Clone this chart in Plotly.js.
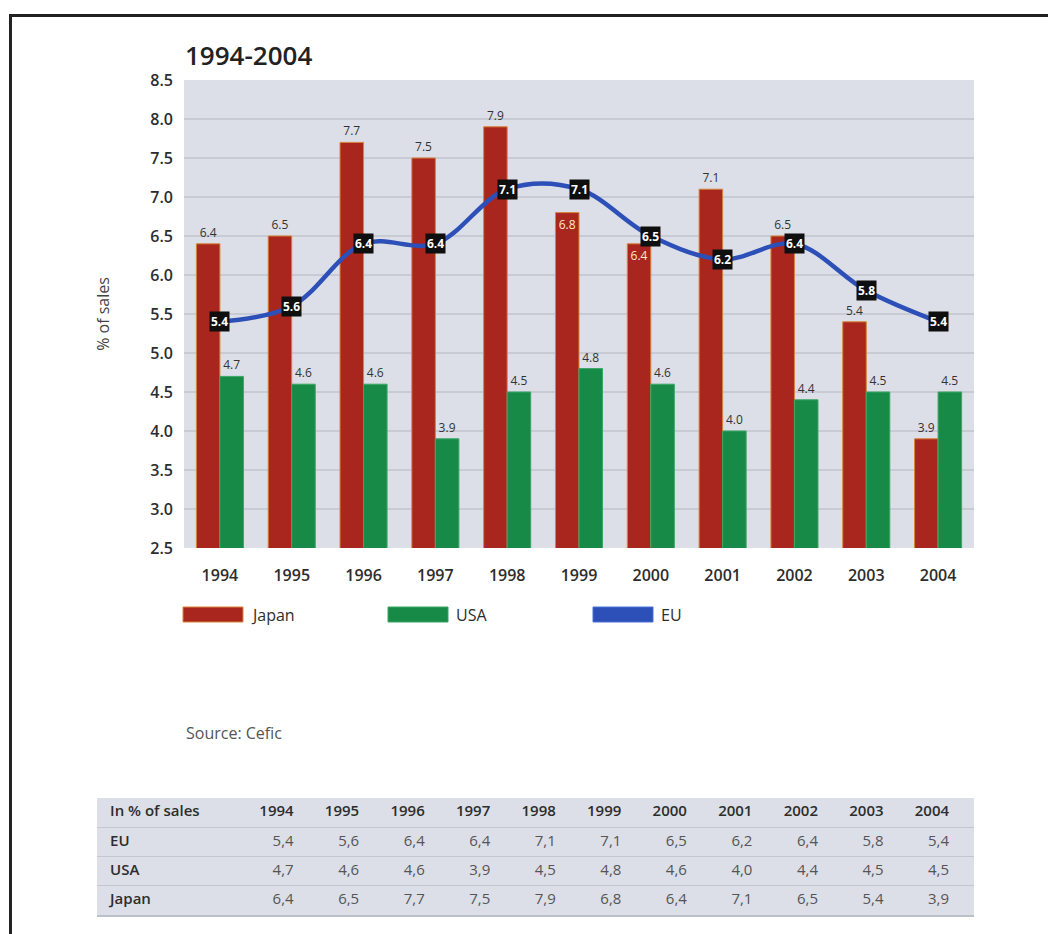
<!DOCTYPE html>
<html>
<head>
<meta charset="utf-8">
<script src="https://cdn.plot.ly/plotly-3.0.1.min.js"></script>
<style>
  html, body { margin: 0; padding: 0; background: #ffffff; }
  #chart { width: 1048px; height: 934px; }
</style>
</head>
<body>
<div id="chart"></div>
<script>
// R&D spending as a share of sales, 1994-2004
const years = ['1994', '1995', '1996', '1997', '1998', '1999', '2000', '2001', '2002', '2003', '2004'];
const japan = [6.4, 6.5, 7.7, 7.5, 7.9, 6.8, 6.4, 7.1, 6.5, 5.4, 3.9];
const usa   = [4.7, 4.6, 4.6, 3.9, 4.5, 4.8, 4.6, 4.0, 4.4, 4.5, 4.5];
const eu    = [5.4, 5.6, 6.4, 6.4, 7.1, 7.1, 6.5, 6.2, 6.4, 5.8, 5.4];
const seriesNames = ['Japan', 'USA', 'EU'];
const tableRowLabels = ['EU', 'USA', 'Japan'];
const tableCorner = 'In % of sales';
const yAxisTitle = '% of sales';
const chartTitle = '1994-2004';
const sourceNote = 'Source: Cefic';

const W = 1048, H = 934;
const px = v => v / W;
const py = v => 1 - v / H;

const FONT = '"Open Sans", "Noto Sans", Arial, sans-serif';
const colors = {
  japan: '#a8261d', japanEdge: '#d9833a',
  usa: '#178a47', usaEdge: '#3aa565',
  eu: '#2c4fb8',
  bg: '#dcdfe7', grid: '#c7cbd5', text: '#2d2d2d', soft: '#555555'
};

// Japan labels that would sit under the EU line go inside the bar top
const japanPos = japan.map((v, i) => (eu[i] > v && eu[i] - v < 0.35) ? 'inside' : 'outside');
const japanTextColor = japanPos.map(p => p === 'inside' ? '#fbe8c8' : '#333333');

const fmtDot = v => v.toFixed(1);
const fmtComma = v => v.toFixed(1).replace('.', ',');

const traces = [
  {
    type: 'bar', name: seriesNames[0], x: years, y: japan,
    marker: { color: colors.japan, line: { color: colors.japanEdge, width: 1 } },
    text: japan.map(fmtDot), textposition: japanPos, insidetextanchor: 'end',
    textangle: 0, constraintext: 'none', cliponaxis: false,
    textfont: { family: FONT, size: 12, color: japanTextColor },
    hoverinfo: 'skip', showlegend: false, xaxis: 'x', yaxis: 'y'
  },
  {
    type: 'bar', name: seriesNames[1], x: years, y: usa,
    marker: { color: colors.usa, line: { color: colors.usaEdge, width: 1 } },
    text: usa.map(fmtDot), textposition: 'outside',
    textangle: 0, constraintext: 'none', cliponaxis: false,
    textfont: { family: FONT, size: 12, color: '#333333' },
    hoverinfo: 'skip', showlegend: false, xaxis: 'x', yaxis: 'y'
  },
  {
    type: 'scatter', mode: 'lines', name: seriesNames[2], x: years, y: eu,
    line: { color: colors.eu, width: 4.5, shape: 'spline', smoothing: 1 },
    hoverinfo: 'skip', showlegend: false, xaxis: 'x', yaxis: 'y'
  }
];

// Data table below the chart, on its own pair of axes
const colIdx = years.map((_, i) => i);
const rowY = { header: 3.5, EU: 2.5, USA: 1.5, Japan: 0.5 };
const tableFont = { family: FONT, size: 15, color: colors.soft };
const tableBold = { family: FONT, size: 15, color: colors.text, weight: 600 };

traces.push({
  type: 'scatter', mode: 'text', x: colIdx, y: years.map(() => rowY.header),
  text: years, textposition: 'middle left', textfont: tableBold,
  hoverinfo: 'skip', showlegend: false, xaxis: 'x2', yaxis: 'y2'
});
[[eu, 'EU'], [usa, 'USA'], [japan, 'Japan']].forEach(([vals, key]) => {
  traces.push({
    type: 'scatter', mode: 'text', x: colIdx, y: vals.map(() => rowY[key]),
    text: vals.map(fmtComma), textposition: 'middle left', textfont: tableFont,
    hoverinfo: 'skip', showlegend: false, xaxis: 'x2', yaxis: 'y2'
  });
});
traces.push({
  type: 'scatter', mode: 'text',
  x: [-2.8, -2.8, -2.8, -2.8],
  y: [rowY.header, rowY.EU, rowY.USA, rowY.Japan],
  text: [tableCorner].concat(tableRowLabels), textposition: 'middle right', textfont: tableBold,
  hoverinfo: 'skip', showlegend: false, xaxis: 'x2', yaxis: 'y2'
});

// EU values in black tags on the line (x given as category index)
const annotations = eu.map((v, i) => ({
  xref: 'x', yref: 'y', x: i, y: v, text: fmtDot(v), showarrow: false,
  bgcolor: '#0f0f0f', borderpad: 1,
  font: { family: FONT, size: 12, color: '#ffffff', weight: 700 }
}));

// Legend drawn as wide swatches with labels
const legendItems = [
  { name: seriesNames[0], fill: colors.japan, edge: colors.japanEdge, x: 183 },
  { name: seriesNames[1], fill: colors.usa, edge: colors.usaEdge, x: 388 },
  { name: seriesNames[2], fill: colors.eu, edge: '#4a6fd6', x: 593 }
];
const shapes = [];
legendItems.forEach(it => {
  shapes.push({
    type: 'rect', xref: 'paper', yref: 'paper',
    x0: px(it.x), x1: px(it.x + 60), y0: py(622), y1: py(607),
    fillcolor: it.fill, line: { color: it.edge, width: 1 }
  });
  annotations.push({
    xref: 'paper', yref: 'paper', x: px(it.x + 66), y: py(615),
    xanchor: 'left', yanchor: 'middle', showarrow: false, text: it.name,
    font: { family: FONT, size: 16, color: colors.text }
  });
});

annotations.push({
  xref: 'paper', yref: 'paper', x: px(184), y: py(733),
  xanchor: 'left', yanchor: 'middle', showarrow: false, text: sourceNote,
  font: { family: FONT, size: 16, color: colors.soft }
});

// Page frame: top and left rules
shapes.push({
  type: 'line', xref: 'paper', yref: 'paper',
  x0: px(9), x1: 1, y0: py(15.5), y1: py(15.5),
  line: { color: '#222222', width: 3 }
});
shapes.push({
  type: 'line', xref: 'paper', yref: 'paper',
  x0: px(10.5), x1: px(10.5), y0: py(14), y1: 0,
  line: { color: '#222222', width: 3 }
});

const layout = {
  width: W, height: H,
  margin: { l: 0, r: 0, t: 0, b: 0, pad: 0 },
  paper_bgcolor: '#ffffff',
  plot_bgcolor: colors.bg,
  font: { family: FONT, color: colors.text },
  showlegend: false,
  barmode: 'group', bargap: 0.345, bargroupgap: 0,
  title: {
    text: chartTitle, xref: 'paper', yref: 'paper',
    x: px(185), xanchor: 'left', y: py(56), yanchor: 'middle',
    font: { family: FONT, size: 26, color: '#222222', weight: 600 }
  },
  xaxis: {
    domain: [px(184), px(974)], anchor: 'y', type: 'category',
    range: [-0.5, years.length - 0.5], autorange: false,
    showgrid: false, zeroline: false, showline: false, ticks: '',
    ticklabelstandoff: 16,
    tickfont: { family: FONT, size: 16, color: colors.text, weight: 600 }
  },
  yaxis: {
    domain: [py(548), py(80)], anchor: 'x', range: [2.5, 8.5], autorange: false,
    dtick: 0.5, tick0: 2.5, tickformat: '.1f',
    showgrid: true, gridcolor: colors.grid, gridwidth: 1.5,
    zeroline: false, showline: false, ticks: '',
    ticklabelstandoff: 10,
    tickfont: { family: FONT, size: 16, color: colors.text, weight: 600 },
    title: { text: yAxisTitle, standoff: 36, font: { family: FONT, size: 16, color: '#444444' } }
  },
  xaxis2: {
    domain: [px(97), px(974)], anchor: 'y2', range: [-3.0, 10.38], autorange: false,
    showgrid: false, zeroline: false, showticklabels: false, ticks: '',
    showline: true, linecolor: '#bcc0c9', linewidth: 1.5
  },
  yaxis2: {
    domain: [py(915), py(798)], anchor: 'x2', range: [0, 4], autorange: false,
    tickvals: [1, 2, 3], showticklabels: false, ticks: '',
    showgrid: true, gridcolor: '#c3c7cf', gridwidth: 1.2, zeroline: false
  },
  annotations: annotations,
  shapes: shapes
};

Plotly.newPlot('chart', traces, layout, { displayModeBar: false, staticPlot: true });
</script>
</body>
</html>
